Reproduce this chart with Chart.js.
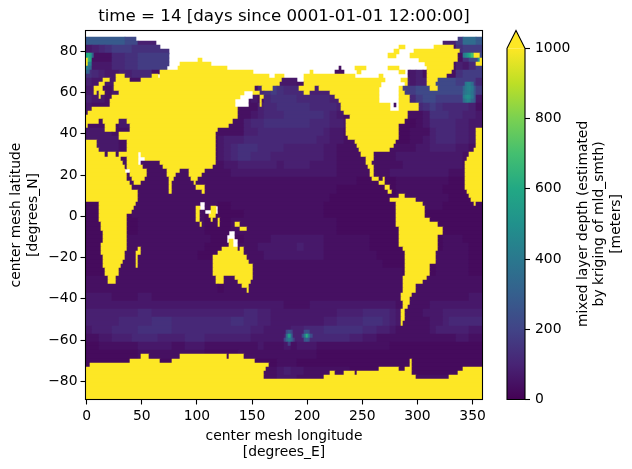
<!DOCTYPE html>
<html>
<head>
<meta charset="utf-8">
<style>html,body{margin:0;padding:0;background:#fff}canvas{display:block}</style>
<script src="https://cdn.jsdelivr.net/npm/chart.js@4/dist/chart.umd.js"></script>
</head>
<body>
<canvas id="map" width="632" height="469"></canvas>
<script>
const plotTitle = 'time = 14 [days since 0001-01-01 12:00:00]';
const lonTicks = [0, 50, 100, 150, 200, 250, 300, 350];
const latTicks = [-80, -60, -40, -20, 0, 20, 40, 60, 80];
const depthTicks = [0, 200, 400, 600, 800, 1000];
const lonTitle = ['center mesh longitude', '[degrees_E]'];
const latTitle = ['center mesh latitude', '[degrees_N]'];
const depthTitle = ['mixed layer depth (estimated', 'by kriging of mld_smth)', '[meters]'];
const landDepth = 1000;

// Ocean depth classes in metres, addressed by the characters of oceanBands.
const depthClasses = {'0':20,'1':28,'2':42,'3':66,'4':88,'5':112,'6':138,'7':175,'8':220,'9':280,a:350,b:430,c:520};

// One line per 4 degree latitude band from 86N southward, one character per 6 degrees of longitude.
const oceanBands = [
"9999998844 4222222222 2222222222 2222222222 2222222222 2222447aa9",
"3456777666 6666222222 2222222222 2222222222 2222222222 2222226777",
"9222556677 7777222222 2222222222 2222222222 2222222222 2222222688",
"8333556677 7772222222 2222222222 2222222222 2222222222 2222224357",
"6543344555 2222222222 2222222222 2222222222 2222222223 4222226777",
"4333332222 2222222222 2222222223 3322222222 2222222443 4428887775",
"3322333222 2222222222 2222225676 5555444322 2222222277 8888888997",
"4332222222 2222222222 2222232566 6655555442 2222222225 7887777993",
"3222222222 2222222222 2222224556 6666555543 2222222222 5676555542",
"2222222222 2222222222 2222234555 6666665432 2222222222 2366655443",
"2222233322 2222222222 2222455666 6666555443 2222222111 2355554433",
"3333222222 2222222222 2222445555 5555554332 2222222112 2245554433",
"3333322222 2222222222 3444555555 5555544332 2222222112 2345554433",
"2333322222 2222222222 3456665555 4444443322 2222222222 3344443322",
"2222222222 2222222222 3456655544 4444443322 2222222333 3333333222",
"2222222222 2222222222 2334444443 4444333322 2222222233 3333333222",
"2222222222 2222222222 2233333333 3333333322 2222223333 3333322222",
"2222222222 2222222222 2222222222 2222222222 2111111222 2222211111",
"2222222222 2222222222 2222222222 2222222211 1111111222 2222111111",
"1111111222 2222222222 2222222222 2222222111 1111111222 2222211111",
"1111111222 2222222222 1122222222 2222221111 1111111222 2222111111",
"1111111222 2222222211 1111222222 2222221111 1111111111 1111111111",
"1111111122 2222222211 1122222222 2222222211 1111111111 1111111111",
"1111111122 2222222211 1122222222 2222222211 1111111111 1111111111",
"1111112222 2222222221 1111222233 3333332222 2221111111 1111222111",
"1111112222 2222222211 1112223333 3343332222 2221111111 1111222211",
"1111112222 2222222111 1112222333 3333332222 2222111111 1112222211",
"1111122222 2222222222 1112222222 2222222222 2222211111 1112222211",
"1111122222 2222222222 2222222222 2222222222 2222222211 1112222211",
"2222222222 2222222222 2222222222 2222222222 2222222222 2222222222",
"2222222222 2222222222 1222222222 2222222222 2222222222 2222222222",
"3333222233 2222222222 2222222222 2222222222 2222222222 2222222233",
"3333333333 3333333333 3333333333 2222333333 3333333222 2233333333",
"4444444455 4444444444 4444554433 3333333344 4455554322 2333444444",
"4444455555 6665555555 5566554433 3333334455 5566654322 2233455555",
"3444555566 6665555555 5555544333 3445556666 6655443222 2234444433",
"2233444555 5444455544 4444433333 4444555555 4433222222 2222223322",
"1122222233 3332233322 2222223222 3233322222 2222221111 1111111111",
"1111111122 2222222211 1112222222 2222211111 1111111111 1111111111",
"1111111111 1111111111 1111111112 2211111111 1111111111 1111111111",
"1111111111 1111111111 2222222223 4332222222 1111111111 1111111111",
"2222222222 2222222222 2222222223 3322222222 2222222222 2222222222"
];

// Land cells per latitude row: [lat, fromLon, toLon, fromLon, toLon, ...].
const landRows = [
[82,283,290,315,334],[80,279,284,297,340],[78,274,281,294,337,351,357],
[76,0,1,101,105,302,337,357,360],[74,0,1,86,113,308,334,353,360],[72,83,127,243,254,274,283,309,334],
[70,68,151,203,206,246,250,283,289,309,332],[68,27,35,60,65,68,166,171,179,197,243,266,269,309,327],
[66,15,21,27,40,49,177,198,272,286,292,310,319],[64,12,17,26,175,198,267,289,292,310,318],
[62,7,15,25,153,160,169,194,208,212,265,283,288,312,319],[60,7,9,12,17,29,143,151,158,198,204,222,265,283,290],
[58,12,14,24,140,157,161,226,265,283,294],[56,21,135,157,160,229,265,283,294],
[54,21,135,157,159,231,276,283,301],[52,6,137,231,276,283,301],[50,2,137,233,292],[48,0,138,239,292],
[46,0,11,15,29,38,133,236,289],[44,0,2,17,27,40,129,236,284],[42,18,27,40,119,236,284,353,360],
[40,29,118,236,283,353,360],[38,29,118,238,283,353,360],[36,0,9,37,118,243,282,354,360],[34,0,9,37,118,245,280,354,360],
[32,0,11,37,118,247,276,351,360],[30,0,17,20,27,30,47,50,118,249,262,347,360],
[28,0,32,37,47,53,118,253,261,345,360],[26,0,34,38,48,67,118,253,260,344,360],
[24,0,35,38,52,70,115,255,261,344,360],[22,0,35,39,56,73,85,93,107,257,261,344,360],
[20,0,37,40,55,74,82,94,105,257,261,344,360],[18,0,38,41,53,75,80,96,101,259,266,269,271,344,360],
[16,0,40,43,49,75,78,97,100,266,271,344,360],[14,0,41,75,78,100,108,271,276,344,360],
[12,0,48,76,78,105,107,274,277,345,360],[10,0,48,284,290,347,360],[8,0,47,276,299,349,360],
[6,11,46,282,305,351,353],[4,11,44,100,103,114,117,282,308],[2,11,42,100,103,114,117,282,308],
[0,11,38,100,103,112,117,281,308],[-2,11,38,100,103,114,116,119,122,281,312],
[-4,13,38,103,105,119,122,136,140,281,319],[-6,13,38,140,145,283,323],[-8,15,38,283,324],[-10,15,38,283,320],
[-12,15,38,130,134,284,320],[-14,13,38,130,134,284,319],[-16,13,37,47,49,123,138,140,144,288,319],
[-18,13,35,45,49,120,144,290,318],[-20,15,35,45,47,115,146,290,318],[-22,16,34,45,47,115,148,290,317],
[-24,16,32,45,47,115,151,290,311],[-26,17,30,115,152,290,311],[-28,17,29,115,152,290,311],
[-30,19,27,117,125,135,151,288,309],[-32,19,27,117,125,137,150,288,306],[-34,142,148,288,300],
[-36,145,148,288,300],[-38,285,296],[-40,285,294],[-42,288,293],[-44,288,292],[-46,285,290],[-48,285,290],
[-50,285,290],[-52,285,288],[-68,50,57,85,127,130,143],[-70,40,68,78,154,293,296],[-72,3,166,293,296],
[-74,0,163,265,284,290,296,342,360],[-76,0,161,222,226,234,243,246,296,337,360],[-78,0,161,215,300,329,360],
[-80,0,360],[-82,0,360],[-84,0,360],[-86,0,360],[-88,0,360]
];

// Cells with no data at all, left unpainted.
const blankRows = [
[88,0,360],[86,45,337],[84,64,324],[82,67,334],[80,75,340],[78,75,337],[76,75,337],[74,75,334],
[72,73,229,232,334],[70,151,226,234,291],[68,65,68,166,171,179,197,243,291],[66,192,198,272,286],
[64,267,289],[62,265,283],[60,143,151,265,283],[58,140,151,265,283],[56,135,148,265,283],
[54,135,148,276,279,281,283],[52,276,283],[30,47,50],[28,47,53],[26,48,50],[22,35,39],[6,103,107],
[4,103,107,117,120],[2,107,114,117,120],[-8,129,136],[-10,128,136],[-12,128,130,134,138],[-14,134,138]
];

// Deep convection patches: [lon, lat, depth].
const deepCells = [
[200,-58,620],[198,-58,400],[202,-58,430],[196,-58,230],[204,-58,230],[198,-60,260],[200,-60,300],[202,-60,260],
[198,-56,220],[200,-56,240],[202,-56,220],
[184,-58,560],[182,-58,330],[186,-58,300],[184,-60,400],[182,-60,330],[186,-60,320],[180,-60,200],[188,-60,190],
[184,-56,260],[182,-56,200],[186,-56,200],[184,-62,180],
[0,78,600],[2,78,620],[4,78,550],[6,78,300],[2,76,680],[4,76,600],[2,74,450],[4,74,430],
[0,72,430],[2,72,380],[4,72,330],[0,70,330],[2,70,300],
[342,78,400],[344,78,460],[346,78,520],[348,78,600],[350,78,700],[356,76,500],
[344,64,380],[346,64,430],[348,64,430],[350,64,350],
[342,62,330],[344,62,400],[346,62,440],[348,62,450],[350,62,400],
[342,60,350],[344,60,400],[346,60,420],[348,60,430],[350,60,380],
[342,58,400],[344,58,470],[346,58,500],[348,58,480],[350,58,400],
[342,56,340],[344,56,400],[346,56,450],[348,56,430],[350,56,330]
];

const viridisStops = ['#440154','#482475','#414487','#355f8d','#2a788e','#21918c','#22a884','#44bf70','#7ad151','#bddf26','#fde725'];

function hexToRgb(h) { return [1, 3, 5].map(i => parseInt(h.substr(i, 2), 16)); }
function depthColor(v) {
  const t = Math.min(Math.max(v / 1000, 0), 1) * (viridisStops.length - 1);
  const i = Math.min(Math.floor(t), viridisStops.length - 2);
  const a = hexToRgb(viridisStops[i]), b = hexToRgb(viridisStops[i + 1]), f = t - i;
  return `rgb(${a.map((c, k) => Math.round(c + (b[k] - c) * f)).join(',')})`;
}

function inRow(rows, lat, lon) {
  const row = rows.find(r => r[0] === lat);
  if (!row) return false;
  for (let i = 1; i < row.length; i += 2) if (lon >= row[i] && lon < row[i + 1]) return true;
  return false;
}

function depthAt(lon, lat) {
  if (inRow(landRows, lat, lon)) return landDepth;
  if (inRow(blankRows, lat, lon)) return null;
  const deep = deepCells.find(c => c[0] === lon && c[1] === lat);
  if (deep) return deep[2];
  const band = oceanBands[Math.floor((86 - lat) / 4)].replace(/ /g, '');
  return depthClasses[band[Math.floor(lon / 6)]];
}

// Merge equal neighbours of each 2 degree row into one horizontal floating bar.
const meshBars = [];
for (let lat = 88; lat >= -88; lat -= 2) {
  let run = null;
  for (let lon = 0; lon < 360; lon += 2) {
    const v = depthAt(lon, lat);
    if (run && run.v === v) { run.x[1] = lon + 1; continue; }
    run = v === null ? null : {x: [lon - 1, lon + 1], y: lat, v};
    if (run) meshBars.push(run);
  }
}

const ink = '#000';
const tickFont = {family: 'DejaVu Sans', size: 13.89};
const titleFont = {family: 'DejaVu Sans', size: 13.89, lineHeight: 1.2};

// Keeps neighbouring cells free of hairline seams by snapping them to whole pixels.
const pixelSnap = {
  id: 'pixelSnap',
  beforeDatasetsDraw(chart) {
    chart.getDatasetMeta(0).data.forEach(el => {
      const top = Math.round(el.y - el.height / 2), bottom = Math.round(el.y + el.height / 2);
      el.x = Math.round(el.x);
      el.base = Math.round(el.base);
      el.y = (top + bottom) / 2;
      el.height = bottom - top;
    });
  }
};

// Axes frame, colour bar and its rotated label, all placed from the scales.
const frameAndColorbar = {
  id: 'frameAndColorbar',
  afterLayout(chart) {
    const s = chart.scales.cbar;
    s.left = 525; s.right = 632;
  },
  afterDatasetsDraw(chart) {
    const {ctx, chartArea: a} = chart;
    const s = chart.scales.cbar;
    const left = 507, right = 525;
    const yTop = s.getPixelForValue(1000), yBot = s.getPixelForValue(0);
    ctx.save();
    const grad = ctx.createLinearGradient(0, yBot, 0, yTop);
    viridisStops.forEach((c, i) => grad.addColorStop(i / (viridisStops.length - 1), c));
    ctx.fillStyle = grad;
    ctx.fillRect(left, yTop, right - left, yBot - yTop);
    ctx.beginPath();
    ctx.moveTo(left, yTop); ctx.lineTo((left + right) / 2, a.top); ctx.lineTo(right, yTop); ctx.closePath();
    ctx.fillStyle = viridisStops[10];
    ctx.fill();
    ctx.beginPath();
    ctx.moveTo(left, yBot); ctx.lineTo(left, yTop); ctx.lineTo((left + right) / 2, a.top);
    ctx.lineTo(right, yTop); ctx.lineTo(right, yBot); ctx.closePath();
    ctx.strokeStyle = ink; ctx.lineWidth = 1.1;
    ctx.stroke();
    ctx.strokeRect(a.left, a.top, a.right - a.left, a.bottom - a.top);
    ctx.fillStyle = ink;
    ctx.font = '13.89px "DejaVu Sans"';
    ctx.textAlign = 'center'; ctx.textBaseline = 'middle';
    [583, 599.5, 616].forEach((x, i) => {
      ctx.save();
      ctx.translate(x, (yTop + yBot) / 2);
      ctx.rotate(-Math.PI / 2);
      ctx.fillText(depthTitle[i], 0, 0);
      ctx.restore();
    });
    ctx.restore();
  }
};

const tickGrid = {display: true, offset: false, drawOnChartArea: false, drawTicks: true, tickLength: 5, tickColor: ink, tickWidth: 1.1};
const minusSign = v => String(v).replace('-', '\u2212');

new Chart(document.getElementById('map'), {
  type: 'bar',
  data: {
    datasets: [{
      data: meshBars,
      backgroundColor: meshBars.map(b => depthColor(b.v)),
      borderWidth: 0,
      barThickness: 4.2,
      grouped: false
    }]
  },
  options: {
    indexAxis: 'y',
    responsive: false,
    animation: false,
    events: [],
    layout: {padding: 0},
    plugins: {
      legend: {display: false},
      tooltip: {enabled: false},
      title: {
        display: true, text: plotTitle, color: ink, fullSize: false,
        font: {family: 'DejaVu Sans', size: 16.67, weight: 'normal', lineHeight: 1.2},
        padding: {top: 6.5, bottom: 4}
      }
    },
    scales: {
      x: {
        type: 'linear', min: -1, max: 359,
        afterFit: s => { s.height = 69.5; },
        afterBuildTicks: s => { s.ticks = lonTicks.map(value => ({value})); },
        grid: tickGrid, border: {display: false},
        ticks: {color: ink, font: tickFont, padding: 3.5, maxRotation: 0, autoSkip: false},
        title: {display: true, text: lonTitle, color: ink, font: titleFont, padding: {top: 2, bottom: 8}}
      },
      y: {
        type: 'linear', min: -88.85, max: 90.15, offset: false,
        afterFit: s => { s.width = 85.5; },
        afterBuildTicks: s => { s.ticks = latTicks.map(value => ({value})); },
        grid: tickGrid, border: {display: false},
        ticks: {color: ink, font: tickFont, padding: 3, autoSkip: false, callback: minusSign},
        title: {display: true, text: latTitle, color: ink, font: titleFont, padding: {top: 8.5, bottom: 2}}
      },
      cbar: {
        type: 'linear', axis: 'y', position: 'right', min: 0, max: 1050.7, offset: false,
        afterFit: s => { s.width = 149.5; },
        afterBuildTicks: s => { s.ticks = depthTicks.map(value => ({value})); },
        grid: tickGrid, border: {display: false},
        ticks: {color: ink, font: tickFont, padding: 5, autoSkip: false, callback: v => String(v)}
      }
    }
  },
  plugins: [pixelSnap, frameAndColorbar]
});
</script>
</body>
</html>
